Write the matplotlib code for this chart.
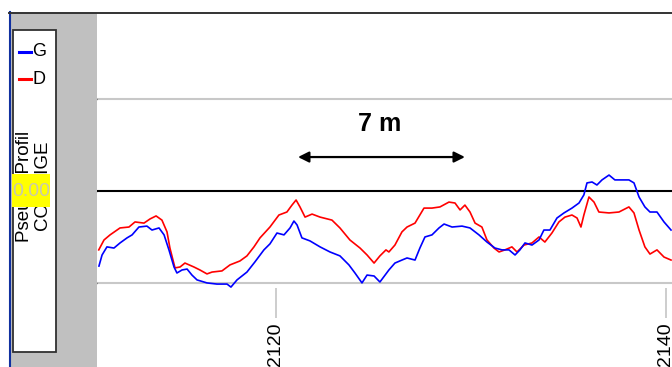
import matplotlib.pyplot as plt
from matplotlib.patches import Rectangle
from matplotlib.lines import Line2D

plt.rcParams['font.family'] = ['Liberation Sans', 'DejaVu Sans']

# profil G (bleu)
g_x = [2110.92, 2111.08, 2111.33, 2111.69, 2112.00, 2112.36, 2112.62, 2112.97,
       2113.38, 2113.64, 2114.00, 2114.26, 2114.51, 2114.77, 2114.92, 2115.18,
       2115.44, 2115.69, 2115.95, 2116.46, 2116.97, 2117.49, 2117.69, 2118.00,
       2118.51, 2118.92, 2119.38, 2119.69, 2120.05, 2120.41, 2120.72, 2120.92,
       2121.08, 2121.33, 2121.74, 2122.26, 2122.77, 2123.28, 2123.74, 2124.05,
       2124.41, 2124.67, 2125.03, 2125.33, 2125.64,
       2125.79, 2126.10, 2126.46, 2126.72, 2127.13, 2127.38, 2127.64, 2128.00,
       2128.36, 2128.62, 2129.03, 2129.54, 2129.95, 2130.41, 2130.82, 2131.23,
       2131.59, 2131.95, 2132.26, 2132.51, 2132.77, 2133.13, 2133.49, 2133.74,
       2134.05, 2134.41, 2134.77, 2135.18, 2135.54, 2135.79, 2135.95, 2136.21,
       2136.46, 2136.72, 2137.08, 2137.38, 2137.74, 2138.10, 2138.36, 2138.62,
       2138.92, 2139.18, 2139.54, 2139.90, 2140.26]
g_y = [-3.25, -2.77, -2.42, -2.47, -2.25, -2.03, -1.90, -1.56,
       -1.52, -1.69, -1.60, -1.90, -2.55, -3.29, -3.55, -3.42,
       -3.38, -3.64, -3.85, -3.98, -4.03, -4.03, -4.16, -3.85,
       -3.51, -3.07, -2.55, -2.29, -1.82, -1.90, -1.60, -1.30,
       -1.47, -2.03, -2.16, -2.42, -2.64, -2.81, -3.20, -3.55,
       -3.98, -3.64, -3.68, -3.94, -3.59,
       -3.42, -3.12, -2.99, -2.90, -2.99, -2.47, -1.99, -1.90,
       -1.60, -1.43, -1.56, -1.52, -1.60, -1.90, -2.21, -2.47,
       -2.55, -2.55, -2.77, -2.55, -2.25, -2.34, -2.12, -1.69,
       -1.69, -1.17, -0.95, -0.74, -0.52, -0.17, 0.35, 0.39,
       0.26, 0.48, 0.69, 0.48, 0.48, 0.48, 0.35, -0.26,
       -0.69, -0.91, -0.91, -1.34, -1.69]

# profil D (rouge)
d_x = [2110.91, 2111.18, 2111.49, 2112.00, 2112.46, 2112.77, 2113.23, 2113.54,
       2113.85, 2114.15, 2114.41, 2114.56, 2114.82, 2115.08, 2115.33, 2115.79,
       2116.10, 2116.46, 2116.72, 2117.23, 2117.64, 2118.15, 2118.51, 2118.87,
       2119.18, 2119.69, 2120.15, 2120.56, 2120.82, 2121.03, 2121.23, 2121.49,
       2121.85, 2122.26, 2122.87, 2123.28, 2123.79, 2124.31, 2124.67, 2125.03,
       2125.33, 2125.64,
       2125.79, 2126.10, 2126.46, 2126.72, 2127.13, 2127.59, 2128.00, 2128.41,
       2128.87, 2129.18, 2129.44, 2129.69, 2129.95, 2130.21, 2130.56, 2130.82,
       2131.18, 2131.44, 2131.74, 2132.10, 2132.36, 2132.72, 2133.13, 2133.49,
       2133.79, 2134.15, 2134.51, 2134.82, 2135.18, 2135.44, 2135.64, 2135.79,
       2136.05, 2136.31, 2136.56, 2137.08, 2137.59, 2138.10, 2138.36, 2138.62,
       2138.92, 2139.18, 2139.54, 2139.90, 2140.26]
d_y = [-2.55, -2.12, -1.90, -1.60, -1.56, -1.34, -1.39, -1.21,
       -1.08, -1.26, -1.77, -2.47, -3.33, -3.29, -3.12, -3.29,
       -3.42, -3.59, -3.51, -3.46, -3.20, -3.03, -2.81, -2.42,
       -2.03, -1.56, -1.04, -0.91, -0.61, -0.39, -0.69, -1.13,
       -1.00, -1.13, -1.26, -1.60, -2.12, -2.47, -2.77, -3.12,
       -2.81, -2.55,
       -2.64, -2.34, -1.77, -1.56, -1.39, -0.74, -0.74, -0.69,
       -0.48, -0.52, -0.82, -0.61, -0.91, -1.39, -1.56, -2.12,
       -2.47, -2.64, -2.55, -2.42, -2.64, -2.34, -2.25, -1.99,
       -2.21, -1.82, -1.34, -1.13, -1.04, -1.17, -1.56, -1.04,
       -0.26, -0.48, -0.91, -0.95, -0.91, -0.69, -0.95, -1.69,
       -2.42, -2.73, -2.55, -2.86, -2.99]

x_ticks = [2120, 2140]
y_ticks = [4, 0, -4]
y_labels = ["+4", "0mm", "-4"]

W, H = 672, 367


def fr(x, y):
    # pixel (depuis le haut) -> fraction de figure
    return x / W, 1 - y / H


def rect(fig, x0, y0, x1, y1, **kw):
    fx, fy = fr(x0, y1)
    r = Rectangle((fx, fy), (x1 - x0) / W, (y1 - y0) / H,
                  transform=fig.transFigure, **kw)
    fig.patches.append(r)


fig = plt.figure(figsize=(W / 100, H / 100), dpi=100)

# panneau gauche
rect(fig, 10, 13, 97, 367, facecolor="#c0c0c0", edgecolor="none")
rect(fig, 12.5, 29.5, 56, 352, facecolor="white", edgecolor="#303030", lw=1.3)
fig.add_artist(Line2D([9.5 / W, 9.5 / W], [0, 1 - 12 / H], color="#1030a0",
                      lw=1.5, transform=fig.transFigure))
fig.add_artist(Line2D([9 / W, 1], [1 - 12.5 / H] * 2, color="#333333",
                      lw=1.4, transform=fig.transFigure))

# légende
for yy, col, lab in [(52, "blue", "G"), (79, "red", "D")]:
    fig.add_artist(Line2D([19 / W, 31 / W], [1 - yy / H] * 2, color=col,
                          lw=2.2, transform=fig.transFigure))
    fig.text(*fr(32, yy), lab, fontsize=13, ha="left", va="center")

fig.text(*fr(24.5, 186), "Pseudo Profil", rotation=90, fontsize=13.5,
         ha="center", va="center")
fig.text(*fr(43, 186), "COTE IGE", rotation=90, fontsize=13.5,
         ha="center", va="center")
rect(fig, 12, 174, 50, 207, facecolor="#ffff00", edgecolor="none", zorder=5)
fig.text(*fr(31, 191), "0.00", fontsize=14, color="#c8c8b0", ha="center",
         va="center", zorder=6)

# graphe
ax = fig.add_axes([97 / W, 1 - 288 / H, 575 / W, 276 / H])
ax.set_xlim(2110.82, 2140.31)
ax.set_ylim(-4.2, 7.75)
for s in ax.spines.values():
    s.set_visible(False)

ax.axhline(4, color="#c8c8c8", lw=1.5, zorder=1)
ax.axhline(-4, color="#c8c8c8", lw=1.5, zorder=1)
ax.axhline(0, color="black", lw=1.5, zorder=2)

ax.plot(d_x, d_y, color="red", lw=1.2, zorder=3, clip_on=False)
ax.plot(g_x, g_y, color="blue", lw=1.2, zorder=4, clip_on=False)

ax.set_xticks(x_ticks)
ax.set_xticklabels([str(v) for v in x_ticks], rotation=90, fontsize=14)
ax.tick_params(axis="x", length=21.5, width=1.1, color="#c0c0c0", pad=3)
ax.set_yticks(y_ticks)
ax.set_yticklabels(y_labels, fontsize=12)
ax.tick_params(axis="y", length=3, width=1, color="#404040", pad=1)

ax.annotate("", xy=(2121.13, 1.47), xytext=(2129.69, 1.47),
            arrowprops=dict(arrowstyle="<|-|>", color="black", lw=1.6,
                            mutation_scale=16, shrinkA=0, shrinkB=0))
ax.text(2125.33, 2.9, "7 m", fontsize=18, fontweight="bold",
        ha="center", va="center")

fig.savefig("out.png", dpi=100)
